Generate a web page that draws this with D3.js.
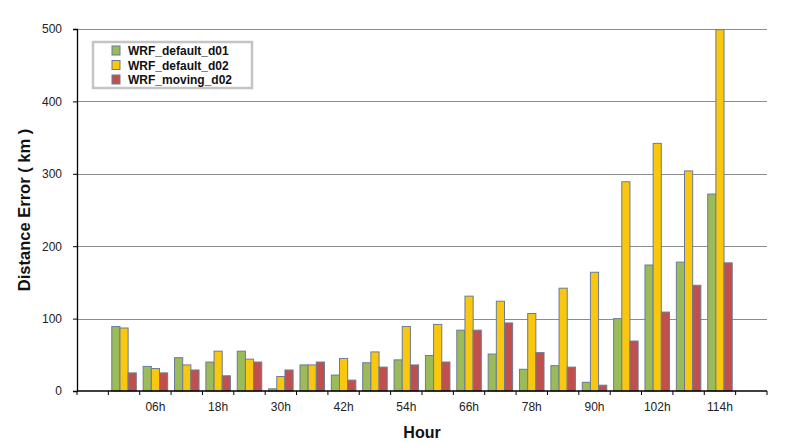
<!DOCTYPE html>
<html>
<head>
<meta charset="utf-8">
<script src="https://cdn.jsdelivr.net/npm/d3@7"></script>
<style>
  body { margin: 0; background: #fff; }
  svg { font-family: "Liberation Sans", Arial, sans-serif; }
</style>
</head>
<body>
<div id="main-chart"></div>
<script>
const width = 788;
const height = 444;
const margin = { left: 77, right: 21, top: 29, bottom: 53 };

const hours = ["00h", "06h", "12h", "18h", "24h", "30h", "36h", "42h", "48h", "54h",
  "60h", "66h", "72h", "78h", "84h", "90h", "96h", "102h", "108h", "114h"];
const tickLabels = ["06h", "18h", "30h", "42h", "54h", "66h", "78h", "90h", "102h", "114h"];
const seriesNames = ["WRF_default_d01", "WRF_default_d02", "WRF_moving_d02"];
const defaultD01 = [89, 34, 46, 40, 55, 3, 36, 22, 39, 43, 49, 84, 51, 30, 35, 12, 100, 174, 178, 272];
const defaultD02 = [87, 31, 36, 55, 44, 20, 36, 45, 54, 89, 92, 131, 124, 107, 142, 164, 289, 342, 304, 499];
const movingD02 = [25, 25, 29, 21, 40, 29, 40, 15, 33, 36, 40, 84, 94, 53, 33, 8, 69, 109, 146, 177];
const yTicks = [0, 100, 200, 300, 400, 500];
const colors = ["#9bbb59", "#f9c80e", "#c0504d"];

const series = [defaultD01, defaultD02, movingD02];

const svg = d3
  .select("#main-chart")
  .append("svg")
  .attr("width", width)
  .attr("height", height);

// one empty band at each end, like the original chart
const xDomain = ["pad-start", ...hours, "pad-end"];
const x = d3
  .scaleBand()
  .domain(xDomain)
  .range([margin.left, width - margin.right]);

const y = d3
  .scaleLinear()
  .domain([0, 500])
  .range([height - margin.bottom, margin.top]);

const inner = d3
  .scaleBand()
  .domain(d3.range(series.length))
  .range([0, x.bandwidth()])
  .paddingOuter(0.42)
  .paddingInner(0);

// grid lines
svg
  .selectAll(".grid")
  .data(yTicks.filter((d) => d > 0))
  .join("line")
  .attr("class", "grid")
  .attr("x1", margin.left)
  .attr("x2", width - margin.right)
  .attr("y1", (d) => Math.round(y(d)) + 0.5)
  .attr("y2", (d) => Math.round(y(d)) + 0.5)
  .attr("stroke", "#8c8c8c")
  .attr("stroke-width", 1);

// bars
const groups = svg
  .selectAll(".series")
  .data(series)
  .join("g")
  .attr("class", "series")
  .attr("fill", (d, i) => colors[i]);

groups
  .selectAll("rect")
  .data((d, i) => d.map((v, j) => ({ v, hour: hours[j], s: i })))
  .join("rect")
  .attr("x", (d) => x(d.hour) + inner(d.s))
  .attr("y", (d) => y(d.v))
  .attr("width", inner.bandwidth())
  .attr("height", (d) => y(0) - y(d.v))
  .attr("stroke", "#6b7b95")
  .attr("stroke-width", 1);

// y axis
const yAxis = svg
  .append("g")
  .attr("transform", `translate(${margin.left},0)`)
  .call(d3.axisLeft(y).tickValues(yTicks).tickSize(4).tickPadding(11));
yAxis.select(".domain").attr("stroke", "#000").attr("stroke-width", 1.3);
yAxis.selectAll(".tick line").attr("stroke", "#000");
yAxis
  .selectAll(".tick text")
  .attr("font-size", 12)
  .attr("fill", "#222")
  .style("font-family", "Liberation Sans, Arial, sans-serif");

// x axis with a tick at every band edge
const xAxisG = svg
  .append("g")
  .attr("transform", `translate(0,${y(0)})`);

xAxisG
  .append("line")
  .attr("x1", margin.left)
  .attr("x2", width - margin.right)
  .attr("stroke", "#000")
  .attr("stroke-width", 1.5);

const edges = xDomain.map((d) => x(d)).concat([width - margin.right]);
xAxisG
  .selectAll(".xtick")
  .data(edges)
  .join("line")
  .attr("class", "xtick")
  .attr("x1", (d) => d)
  .attr("x2", (d) => d)
  .attr("y1", 0)
  .attr("y2", 4)
  .attr("stroke", "#000");

xAxisG
  .selectAll(".xlabel")
  .data(tickLabels)
  .join("text")
  .attr("class", "xlabel")
  .attr("x", (d) => x(d) + x.bandwidth() / 2)
  .attr("y", 20)
  .attr("text-anchor", "middle")
  .attr("font-size", 12)
  .attr("fill", "#222")
  .text((d) => d);

// axis titles
svg
  .append("text")
  .attr("x", 422)
  .attr("y", 438)
  .attr("text-anchor", "middle")
  .attr("font-size", 16)
  .attr("font-weight", "bold")
  .attr("fill", "#111")
  .text("Hour");

svg
  .append("text")
  .attr("transform", "translate(30,210) rotate(-90)")
  .attr("text-anchor", "middle")
  .attr("font-size", 16.5)
  .attr("font-weight", "bold")
  .attr("fill", "#111")
  .text("Distance Error ( km )");

// legend
const legend = svg.append("g").attr("transform", "translate(93,42)");
legend
  .append("rect")
  .attr("width", 159)
  .attr("height", 46)
  .attr("fill", "#fff")
  .attr("stroke", "#c4c4c4")
  .attr("stroke-width", 2.5);

const legendItems = legend
  .selectAll(".legend-item")
  .data(seriesNames)
  .join("g")
  .attr("class", "legend-item")
  .attr("transform", (d, i) => `translate(19,${4 + i * 14.5})`);

legendItems
  .append("rect")
  .attr("width", 8)
  .attr("height", 9)
  .attr("fill", (d, i) => colors[i])
  .attr("stroke", "#6b7b95")
  .attr("stroke-width", 1);

legendItems
  .append("text")
  .attr("x", 16)
  .attr("y", 9)
  .attr("font-size", 12)
  .attr("font-weight", "bold")
  .attr("fill", "#111")
  .text((d) => d);
</script>
</body>
</html>
